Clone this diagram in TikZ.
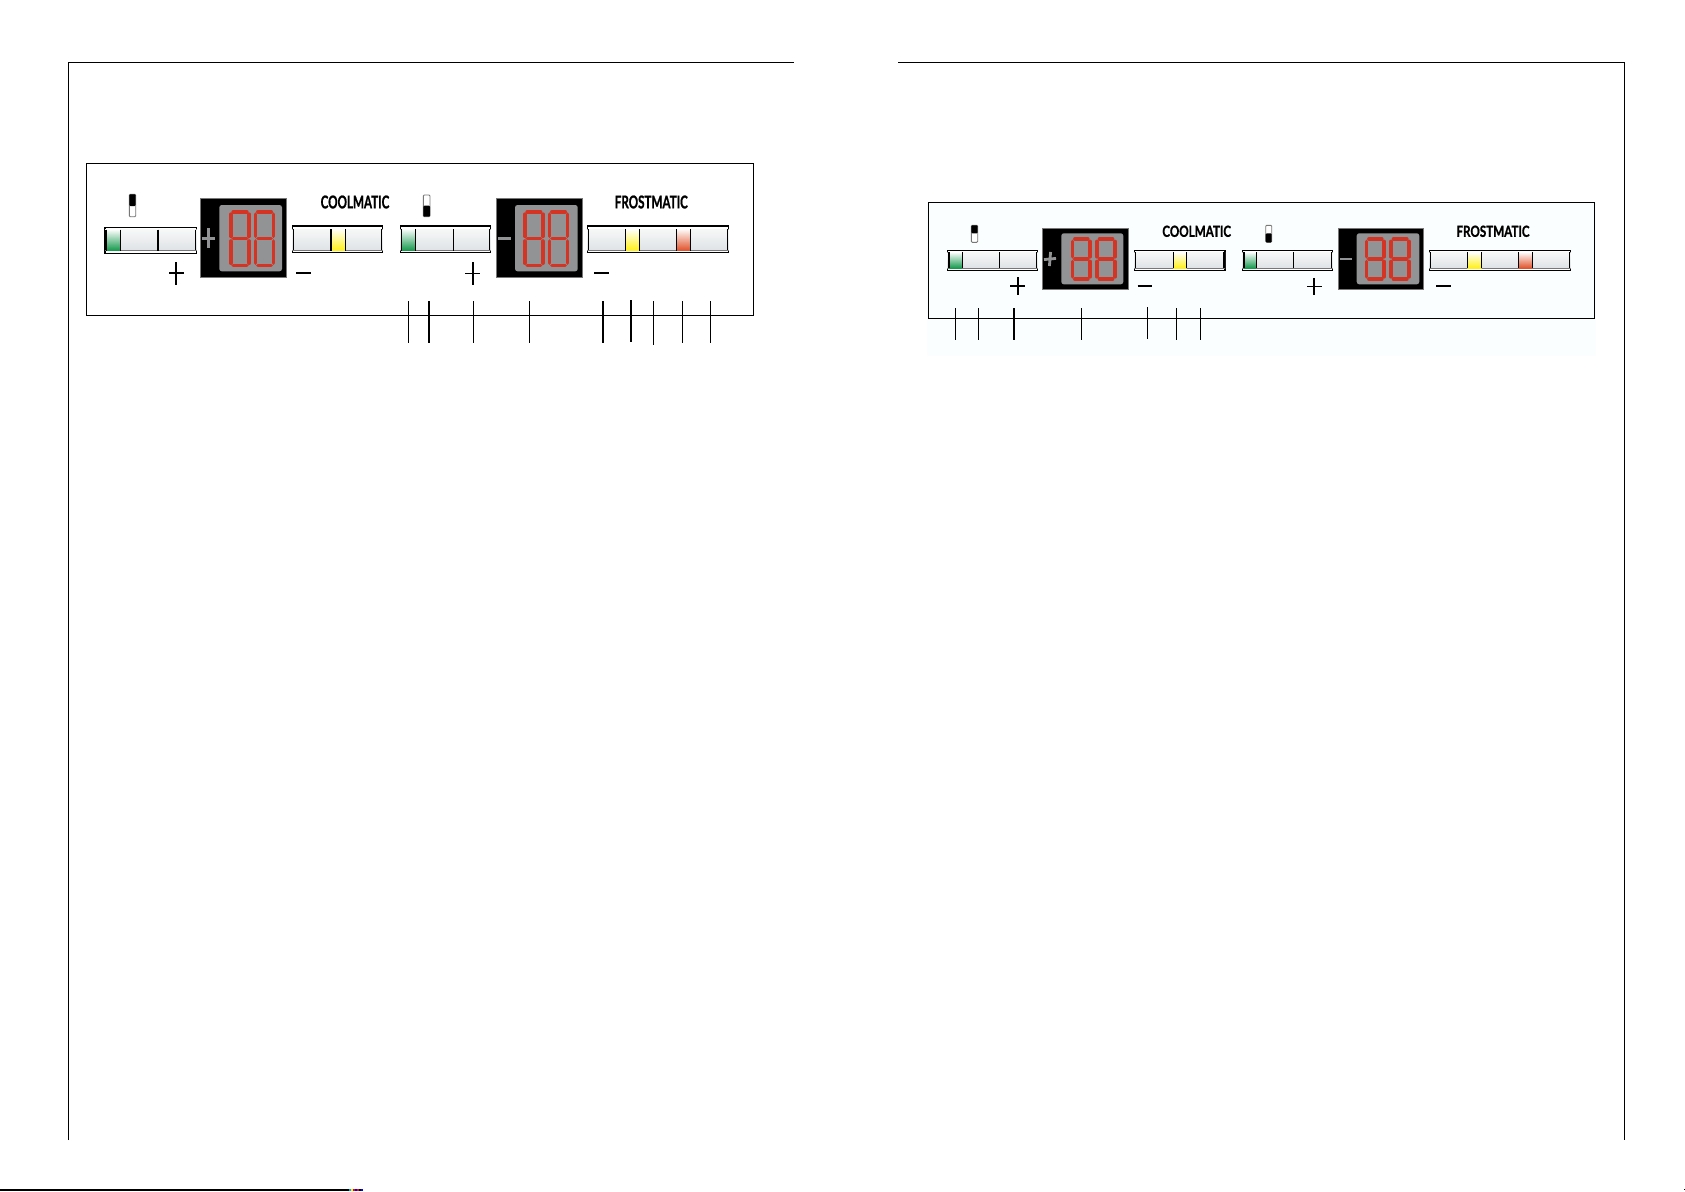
\documentclass[tikz,border=0pt]{standalone}
\usepackage{fontspec}
\newfontfamily\panelfont[BoldFeatures={FakeBold=1.2}]{Lato}
\usepackage{tikz}
\definecolor{mygray5}{RGB}{119, 119, 119}
\definecolor{mygray9}{RGB}{146, 147, 149}
\definecolor{mybtn1}{RGB}{246, 248, 248}
\definecolor{mybtn2}{RGB}{223, 226, 229}
\definecolor{mygreen}{RGB}{18, 152, 74}
\definecolor{myyellow}{RGB}{255, 240, 20}
\definecolor{myorange}{RGB}{224, 80, 40}
\definecolor{myred}{RGB}{212, 52, 36}
\definecolor{mytint}{RGB}{251, 254, 254}
\tikzset{
  pageline/.style = {line width = 1.3, black},
  panelframe/.style = {line width = 1.3, black},
  thintick/.style = {line width = 1, black},
  thicktick/.style = {line width = 2, black},
  panelsign/.style = {line width = 1.9, black},
  graysign/.style = {line width = 2.8, mygray9},
  segment/.style = {line width = 3.5, myred, line cap = round},
  bigtext/.style = {font = \panelfont\bfseries\fontsize{17.6}{18}\selectfont, xscale = 0.66, transform shape, inner sep = 0},
  smalltext/.style = {font = \panelfont\bfseries\fontsize{15.3}{16}\selectfont, xscale = 0.76, transform shape, inner sep = 0}
}
\newcommand{\panelswitch}[6]{
  \draw[draw = mygray5, fill = white, line width = 0.9, rounded corners = 1] (#1, #3) rectangle (#2, #4);
  \fill[black, rounded corners = 1] (#1, #5) rectangle (#2, #6);
}
\newcommand{\panelbar}[6]{
  \draw[line width = 1.1, fill = white] (#1, #3) rectangle (#2, #4);
  \shade[top color = mybtn1, bottom color = mybtn2] (#1, #5) rectangle (#2, #6);
  \draw[line width = 1.4] (#1 + 1, #5) -- (#1 + 1, #6);
  \draw[line width = 1.4] (#2 - 1, #5) -- (#2 - 1, #6);
  \draw[line width = 0.5, mygray5] (#1, #6) -- (#2, #6);
}
\newcommand{\panelled}[5]{
  \shade[top color = #5!2!white, middle color = #5!35!white, bottom color = #5] (#1, #3) rectangle (#2, #4);
  \draw[line width = 1.2] (#1, #3) -- (#1, #4);
  \draw[line width = 1.2] (#2, #3) -- (#2, #4);
}
\newcommand{\paneldigit}[4]{
  \pgfmathsetmacro{\xa}{#1 + 1.8}
  \pgfmathsetmacro{\xb}{#2 - 1.8}
  \pgfmathsetmacro{\ya}{#3 + 1.8}
  \pgfmathsetmacro{\yb}{#4 - 1.8}
  \pgfmathsetmacro{\ym}{(#3 + #4) / 2}
  \foreach \yy in {\ya, \ym, \yb} {
    \draw[segment] (\xa + 2.3, \yy) -- (\xb - 2.3, \yy);
  }
  \foreach \xx in {\xa, \xb} {
    \draw[segment] (\xx, \ya + 2.3) -- (\xx, \ym - 2.3);
    \draw[segment] (\xx, \ym + 2.3) -- (\xx, \yb - 2.3);
  }
}
\newcommand{\paneldisplay}[8]{
  \draw[draw = mygray5, fill = black, line width = 0.6] (#1, #3) rectangle (#2, #4);
  \fill[mygray9, rounded corners = 2.5] (#5, #7) rectangle (#6, #8);
}
\begin{document}
\begin{tikzpicture}[x = 1pt, y = -1pt]
\useasboundingbox (0, 0) rectangle (1685, 1191);
\fill[white] (0, 0) rectangle (1685, 1191);
\draw[pageline] (68.5, 1140) -- (68.5, 62.5) -- (794, 62.5);
\draw[pageline] (898, 62.5) -- (1624.5, 62.5) -- (1624.5, 1140);
\draw[pageline] (0, 1190) -- (349, 1190);
\foreach \x/\c in {349/cyan, 351/yellow, 353/red, 355/blue, 357/red, 359/black, 361/blue} {
  \draw[line width = 1.3, \c] (\x, 1190) -- (\x + 2, 1190);
}
\fill[black] (1683.5, 1189) rectangle (1684.5, 1190);
\draw[panelframe] (86.3, 163.3) rectangle (753.3, 315.3);
\panelswitch{129.3}{135.7}{194.3}{216.7}{194.3}{206}
\panelbar{105}{196.7}{227.3}{253.7}{229.7}{250.7}
\panelled{106.7}{120.3}{229.7}{250.7}{mygreen}
\draw[line width = 1.4] (158, 229.7) -- (158, 250.7);
\draw[panelsign] (169, 273.3) -- (183.6, 273.3);
\draw[panelsign] (176.3, 262) -- (176.3, 285);
\paneldisplay{200.3}{286.7}{198.3}{277.7}{219.3}{282}{205}{271.3}
\draw[graysign] (202.4, 238.3) -- (215, 238.3);
\draw[graysign] (208.7, 228.3) -- (208.7, 248.3);
\paneldigit{229}{251}{210}{267.3}
\paneldigit{253.7}{275.3}{210}{267.3}
\panelbar{292.3}{382.7}{226}{252.7}{229}{250.7}
\panelled{331}{345.3}{229}{250.7}{myyellow}
\draw[panelsign] (296, 273.3) -- (310.7, 273.3);
\node[bigtext] (coolleft) at (355, 202) {COOLMATIC};
\panelswitch{423.3}{430}{195}{216.7}{205.7}{216.7}
\panelbar{400.3}{490.7}{226}{252.7}{229}{250.7}
\panelled{401.7}{415.3}{229}{250.7}{mygreen}
\draw[line width = 1.4] (453.3, 229) -- (453.3, 250.7);
\draw[panelsign] (465.4, 273.5) -- (480, 273.5);
\draw[panelsign] (472.7, 262) -- (472.7, 285);
\paneldisplay{496}{582}{198.3}{277.7}{515}{577.7}{205}{271.3}
\draw[graysign] (498.3, 238.3) -- (510.7, 238.3);
\paneldigit{523}{544.7}{210}{267.3}
\paneldigit{547.7}{569.3}{210}{267.3}
\panelbar{587.3}{728.7}{226}{252.7}{229}{250.7}
\panelled{625.7}{639.7}{229}{250.7}{myyellow}
\panelled{676.7}{690.7}{229}{250.7}{myorange}
\draw[panelsign] (594.3, 273.3) -- (609, 273.3);
\node[bigtext] (frostleft) at (651.3, 202) {FROSTMATIC};
\foreach \x in {408.5, 473.5, 529.3, 682.7, 710.7} {
  \draw[thintick] (\x, 301.3) -- (\x, 342.7);
}
\draw[thicktick] (429, 301.3) -- (429, 342.7);
\draw[thicktick] (603, 301.3) -- (603, 342.7);
\draw[thicktick] (631, 300) -- (631, 342);
\draw[thintick] (653.3, 301.3) -- (653.3, 344.7);
\fill[mytint] (926.7, 202.3) rectangle (1596, 355.7);
\draw[panelframe] (928.3, 202.3) rectangle (1594.7, 318.3);
\panelswitch{971.3}{977.7}{225.3}{242.3}{225.3}{233.3}
\panelbar{947.3}{1037.7}{250.3}{270.7}{252.3}{268.3}
\panelled{949}{962.3}{252.3}{268.3}{mygreen}
\draw[line width = 0.8] (999.3, 252.3) -- (999.3, 268.3);
\draw[panelsign] (1010.4, 286) -- (1025, 286);
\draw[panelsign] (1017.7, 277.3) -- (1017.7, 294.7);
\paneldisplay{1042.3}{1128}{228.3}{289.3}{1061.3}{1123.3}{233.3}{284.3}
\draw[graysign] (1044, 259.6) -- (1056, 258.4);
\draw[graysign] (1050.6, 252) -- (1049.4, 266);
\paneldigit{1070.7}{1092}{237.3}{281}
\paneldigit{1095.3}{1116.7}{237.3}{281}
\panelbar{1134.3}{1225}{250.3}{270.7}{252.3}{268.3}
\panelled{1173.3}{1186.7}{252.3}{268.3}{myyellow}
\draw[panelsign] (1137.7, 285.7) -- (1152.3, 285.7);
\node[smalltext] (coolright) at (1196.7, 231.3) {COOLMATIC};
\panelswitch{1265.7}{1271.7}{225.3}{242.3}{233.3}{242.3}
\panelbar{1242.3}{1332.7}{250.3}{270.7}{252.3}{268.3}
\panelled{1244}{1256.3}{252.3}{268.3}{mygreen}
\draw[line width = 1.4] (1293.7, 252.3) -- (1293.7, 268.3);
\draw[panelsign] (1307, 286.5) -- (1321.6, 286.5);
\draw[panelsign] (1314.3, 277.8) -- (1314.3, 295.2);
\paneldisplay{1338}{1423.7}{228.3}{289.3}{1356.7}{1419.3}{233.3}{284.3}
\draw[graysign] (1340, 259) -- (1352, 259);
\paneldigit{1364.7}{1386}{237.3}{281}
\paneldigit{1389.3}{1411}{237.3}{281}
\panelbar{1429.3}{1570.7}{250.3}{270.7}{252.3}{268.3}
\panelled{1467.3}{1481.7}{252.3}{268.3}{myyellow}
\panelled{1518.7}{1532.7}{252.3}{268.3}{myorange}
\draw[panelsign] (1436, 285.7) -- (1450.7, 285.7);
\node[smalltext] (frostright) at (1493, 231.3) {FROSTMATIC};
\foreach \x in {955.3, 978.3, 1081.3, 1176.3, 1200.3} {
  \draw[thintick] (\x, 308.3) -- (\x, 340);
}
\draw[thicktick] (1014, 308.3) -- (1014, 340);
\draw[thintick] (1147.3, 307.3) -- (1147.3, 339);
\end{tikzpicture}
\end{document}
